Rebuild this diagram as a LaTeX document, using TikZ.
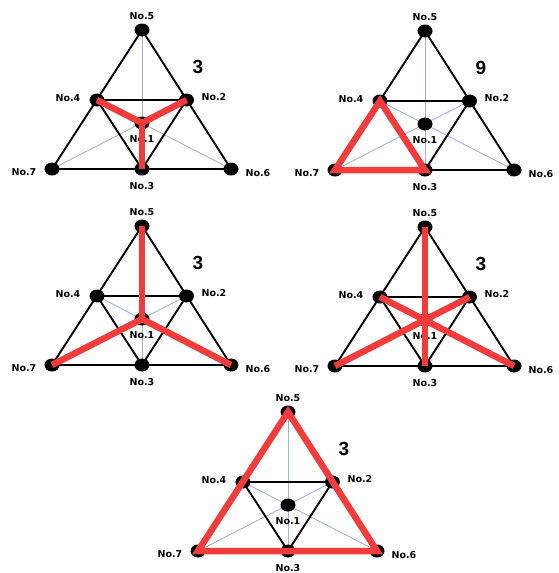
\documentclass[tikz,border=0pt]{standalone}
\usepackage{fontspec}
\usetikzlibrary{shapes.geometric}
\newfontfamily\lblfont{DejaVu Sans}
\newfontfamily\numfont{Liberation Sans}
\definecolor{hlred}{HTML}{F23B3B}
\definecolor{medblue}{HTML}{9DB4E2}
\pgfdeclarelayer{bg}
\pgfdeclarelayer{fg}
\pgfsetlayers{bg,main,fg}
\tikzset{
  vdot/.style={ellipse, fill=black, minimum width=15pt, minimum height=13pt, inner sep=0pt},
  vlabel/.style={font=\lblfont\bfseries\fontsize{9.5}{9.5}\selectfont, inner sep=0pt},
  countlabel/.style={font=\numfont\bfseries\fontsize{19}{19}\selectfont, inner sep=0pt},
  blackedge/.style={line width=1.9pt, black, line join=miter},
  median/.style={line width=0.9pt, medblue},
  hl/.style={line width=6.5pt, hlred},
  hljoin/.style={line width=6.5pt, hlred, line join=round},
}
\newcommand{\fanopanel}[3]{%
  \begin{scope}[shift={#2}]
    \node[vdot] (#1-5) at (0,0) {};
    \node[vdot] (#1-4) at (-45,70) {};
    \node[vdot] (#1-2) at (44.5,70) {};
    \node[vdot] (#1-1) at (0,93) {};
    \node[vdot] (#1-7) at (-90,139) {};
    \node[vdot] (#1-3) at (0,139) {};
    \node[vdot] (#1-6) at (89,139) {};
    \node[vlabel] (#1-l5) at (0,-14) {No.5};
    \node[vlabel] (#1-l4) at (-74,68) {No.4};
    \node[vlabel] (#1-l2) at (72,67) {No.2};
    \node[vlabel] (#1-l1) at (0,109) {No.1};
    \node[vlabel] (#1-l7) at (-118,142) {No.7};
    \node[vlabel] (#1-l6) at (116,143) {No.6};
    \node[vlabel] (#1-l3) at (0,156) {No.3};
    \node[countlabel] (#1-count) at (56,37) {#3};
  \end{scope}
  \begin{pgfonlayer}{bg}
    \draw[median] (#1-5.center) -- (#1-3.center);
    \draw[median] (#1-7.center) -- (#1-2.center);
    \draw[median] (#1-6.center) -- (#1-4.center);
    \draw[blackedge] (#1-7.center) -- (#1-5.center) -- (#1-6.center) -- cycle;
    \draw[blackedge] (#1-4.center) -- (#1-2.center) -- (#1-3.center) -- cycle;
  \end{pgfonlayer}}
\begin{document}
\begin{tikzpicture}[x=1pt,y=-1pt]
  \useasboundingbox (0,0) rectangle (559,573);
  \fanopanel{a}{(142,30)}{3}
  \fanopanel{b}{(425,31)}{9}
  \fanopanel{c}{(142,226)}{3}
  \fanopanel{d}{(425,227)}{3}
  \fanopanel{e}{(288,412)}{3}
  \begin{pgfonlayer}{fg}
    % panel a
    \draw[hljoin] (a-4.center) -- (a-1.center) -- (a-2.center);
    \draw[hl] (a-1.center) -- (a-3.center);
    % panel b
    \draw[hl] (b-4.center) -- (b-7.center) -- (b-3.center) -- cycle;
    % panel c
    \draw[hljoin] (c-7.center) -- (c-1.center) -- (c-6.center);
    \draw[hl] (c-5.center) -- (c-1.center);
    % panel d
    \draw[hl] (d-5.center) -- (d-3.center);
    \draw[hl] (d-7.center) -- (d-2.center);
    \draw[hl] (d-4.center) -- (d-6.center);
    % panel e
    \draw[hl] (e-7.center) -- (e-5.center) -- (e-6.center) -- cycle;
  \end{pgfonlayer}
\end{tikzpicture}
\end{document}
